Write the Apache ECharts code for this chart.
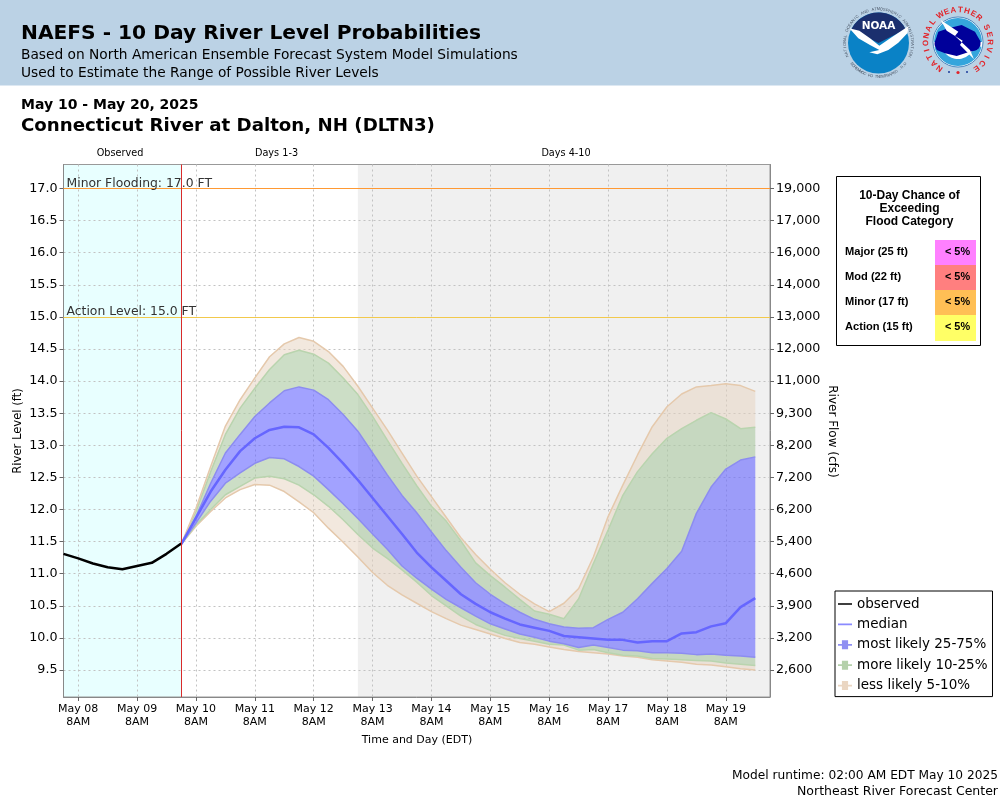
<!DOCTYPE html>
<html>
<head>
<meta charset="utf-8">
<title>NAEFS - Connecticut River at Dalton, NH</title>
<script src="https://cdn.jsdelivr.net/npm/echarts@6/dist/echarts.min.js"></script>
<style>
  html, body { margin: 0; padding: 0; background: #fff; }
  #chart { width: 1000px; height: 800px; }
</style>
</head>
<body>
<div id="chart"></div>
<script>
// x axis, one category every 6 hours, May 08 2AM to May 20 2AM
const days = ['May 08', 'May 09', 'May 10', 'May 11', 'May 12', 'May 13', 'May 14', 'May 15', 'May 16', 'May 17', 'May 18', 'May 19'];
const hours = ['2AM', '8AM', '2PM', '8PM'];
const categories = days.flatMap(d => hours.map(h => d + '\n' + h)).concat(['May 20\n2AM']);
const nowIndex = 8;   // May 10 2AM
const days4Index = 20; // May 13 2AM

// tick labels, both y axes share positions
const levelTicks = [9.5, 10, 10.5, 11, 11.5, 12, 12.5, 13, 13.5, 14, 14.5, 15, 15.5, 16, 16.5, 17];
const flowTicks = ['2,600', '3,200', '3,900', '4,600', '5,400', '6,200', '7,200', '8,200', '9,300', '11,000', '12,000', '13,000', '14,000', '16,000', '17,000', '19,000'];

// observed stage, every 6 hours up to now
const observed = [11.31, 11.24, 11.16, 11.10, 11.07, 11.12, 11.17, 11.31, 11.47];

// forecast percentiles, every 6 hours from now
const p95 = [11.46, 12.02, 12.67, 13.30, 13.71, 14.05, 14.38, 14.58, 14.68, 14.62, 14.46, 14.23, 13.92, 13.58, 13.24, 12.88, 12.52, 12.20, 11.88, 11.56, 11.30, 11.07, 10.86, 10.68, 10.53, 10.41, 10.54, 10.77, 11.26, 11.89, 12.38, 12.85, 13.29, 13.60, 13.80, 13.91, 13.93, 13.96, 13.93, 13.84];
const p90 = [11.46, 11.97, 12.59, 13.17, 13.58, 13.89, 14.18, 14.41, 14.48, 14.42, 14.28, 14.05, 13.79, 13.45, 13.08, 12.72, 12.37, 12.05, 11.82, 11.51, 11.17, 10.97, 10.79, 10.60, 10.42, 10.37, 10.30, 10.61, 11.16, 11.68, 12.22, 12.59, 12.87, 13.11, 13.26, 13.39, 13.51, 13.41, 13.26, 13.28];
const p75 = [11.46, 11.89, 12.41, 12.88, 13.17, 13.45, 13.66, 13.85, 13.91, 13.86, 13.71, 13.48, 13.22, 12.88, 12.54, 12.22, 11.95, 11.65, 11.36, 11.10, 10.86, 10.68, 10.53, 10.40, 10.29, 10.22, 10.17, 10.15, 10.16, 10.29, 10.40, 10.61, 10.85, 11.08, 11.35, 11.94, 12.35, 12.63, 12.77, 12.82];
const p50 = [11.46, 11.87, 12.28, 12.62, 12.91, 13.11, 13.24, 13.29, 13.28, 13.17, 12.96, 12.72, 12.46, 12.18, 11.90, 11.62, 11.33, 11.10, 10.89, 10.68, 10.53, 10.40, 10.30, 10.21, 10.16, 10.11, 10.03, 10.01, 9.99, 9.97, 9.97, 9.93, 9.95, 9.95, 10.07, 10.09, 10.18, 10.23, 10.48, 10.62];
const p25 = [11.46, 11.79, 12.13, 12.41, 12.57, 12.72, 12.81, 12.79, 12.67, 12.52, 12.31, 12.09, 11.86, 11.62, 11.38, 11.12, 10.93, 10.76, 10.60, 10.47, 10.34, 10.22, 10.14, 10.06, 10.01, 9.95, 9.91, 9.85, 9.89, 9.85, 9.81, 9.80, 9.77, 9.77, 9.76, 9.74, 9.75, 9.73, 9.72, 9.70];
const p10 = [11.46, 11.76, 12.00, 12.23, 12.36, 12.49, 12.52, 12.48, 12.38, 12.23, 12.05, 11.84, 11.61, 11.40, 11.24, 11.06, 10.87, 10.66, 10.50, 10.34, 10.21, 10.12, 10.04, 9.99, 9.95, 9.90, 9.89, 9.81, 9.82, 9.77, 9.73, 9.72, 9.68, 9.67, 9.66, 9.65, 9.64, 9.61, 9.59, 9.57];
const p5 = [11.46, 11.74, 11.97, 12.18, 12.31, 12.39, 12.38, 12.28, 12.12, 11.95, 11.71, 11.49, 11.26, 11.02, 10.82, 10.67, 10.54, 10.41, 10.30, 10.20, 10.13, 10.06, 9.99, 9.93, 9.90, 9.86, 9.82, 9.79, 9.77, 9.75, 9.72, 9.70, 9.66, 9.64, 9.62, 9.59, 9.58, 9.55, 9.52, 9.50];

// flood stages and the chance table
const minorStage = 17;
const actionStage = 15;
const floodNames = ['Major (25 ft)', 'Mod (22 ft)', 'Minor (17 ft)', 'Action (15 ft)'];
const floodChance = ['< 5%', '< 5%', '< 5%', '< 5%'];

const FONT = '"DejaVu Sans"';
const TAN = 'rgba(230,210,190,0.5)';
const GREEN = 'rgba(170,200,160,0.6)';
const BLUE = 'rgba(100,100,255,0.6)';
const TAN_LINE = '#e5c9ac';
const GREEN_LINE = '#b9d4ae';
const BLUE_LINE = '#8c8cf0';
const GRID_LINE = { color: '#c2c2c2', type: [2, 3], width: 1 };

const pad = arr => new Array(nowIndex).fill(null).concat(arr);
const diff = (top, bottom) => pad(top.map((v, i) => +(v - bottom[i]).toFixed(2)));
const everyDay = i => i % 4 === 1;

// one band of the stack, the top edge of it has its own colour
function band(name, data, fill, edge) {
  return {
    name: name,
    type: 'line',
    stack: 'naefs',
    data: data,
    symbol: 'none',
    color: edge,
    z: 2,
    lineStyle: { color: edge, width: 1.5 },
    areaStyle: fill ? { color: fill, opacity: 1 } : undefined
  };
}

// empty series that only carries one reference line
function refLine(name, color, width, point, text) {
  const labelStyle = text
    ? { show: true, position: 'insideStartTop', formatter: text, color: '#333', fontFamily: FONT, fontSize: 12.4, distance: [3, -1] }
    : { show: false };
  return {
    name: name, type: 'line', data: [], z: 5,
    markLine: {
      silent: true, symbol: 'none', z: 5, animation: false,
      lineStyle: { color: color, width: width, type: 'solid', opacity: 1 },
      label: labelStyle,
      data: [point]
    }
  };
}

function label(x, y, text, font, color) {
  return {
    type: 'text', x: x, y: y, silent: true,
    style: { text: text, font: font, fill: color || '#000', align: 'left', verticalAlign: 'middle' }
  };
}

function centered(x, y, text, font, rotation, color) {
  return {
    type: 'text', silent: true, x: x, y: y, rotation: rotation || 0,
    style: { text: text, font: font, fill: color || '#000', align: 'center', verticalAlign: 'middle' }
  };
}

// letters placed one by one around a circle, angles in degrees clockwise from top
function arcText(text, cx, cy, r, from, to, font, color, bottom) {
  const n = text.length;
  return text.split('').map((ch, i) => {
    const deg = from + (to - from) * i / (n - 1);
    const a = deg * Math.PI / 180;
    return {
      type: 'text', silent: true,
      x: cx + r * Math.sin(a), y: cy - r * Math.cos(a),
      rotation: bottom ? -a + Math.PI : -a,
      style: { text: ch, font: font, fill: color, align: 'center', verticalAlign: 'middle' }
    };
  });
}

function noaaLogo() {
  const cx = 878.5, cy = 43;
  const d2r = Math.PI / 180;
  const wing = [[88, 85], [118, 92], [150, 115], [178, 137], [215, 112], [266, 78], [262, 100], [235, 128], [205, 150], [172, 163], [148, 157], [178, 150], [150, 135], [115, 115]]
    .map(p => [820 + p[0] / 3, p[1] / 3]);
  return [
    { type: 'circle', silent: true, shape: { cx: cx, cy: cy, r: 30.5 }, style: { fill: '#0a82c6' } },
    { type: 'sector', silent: true, shape: { cx: cx, cy: cy, r: 30.5, r0: 0, startAngle: -153 * d2r, endAngle: -27 * d2r, clockwise: true }, style: { fill: '#1b2f6e' } },
    { type: 'polygon', silent: true, shape: { points: wing }, style: { fill: '#fff' } },
    centered(cx, 26, 'NOAA', 'bold 10.5px ' + FONT, 0, '#fff')
  ].concat(
    arcText('NATIONAL OCEANIC AND ATMOSPHERIC ADMINISTRATION', cx, cy, 33.8, -112, 112, '4px "Liberation Sans"', '#4a5666'),
    arcText('U.S. DEPARTMENT OF COMMERCE', cx, cy, 33.8, 128, 232, '4px "Liberation Sans"', '#4a5666', true)
  );
}

function nwsLogo() {
  const cx = 958, cy = 42;
  const at = pts => pts.map(p => [820 + p[0] / 3, p[1] / 3]);
  const navy = { fill: '#00009a' };
  const sky = { fill: '#35a5dc' };
  return [
    { type: 'circle', silent: true, shape: { cx: cx, cy: cy, r: 25 }, style: { fill: '#fff', stroke: '#2a6fb0', lineWidth: 0.8 } },
    { type: 'sector', silent: true, shape: { cx: cx, cy: cy, r: 24, r0: 0, startAngle: -Math.PI, endAngle: 0, clockwise: true }, style: sky },
    { type: 'sector', silent: true, shape: { cx: cx, cy: cy, r: 24, r0: 17, startAngle: 0.2, endAngle: Math.PI - 0.2, clockwise: true }, style: sky },
    { type: 'polygon', silent: true, shape: { points: at([[345, 125], [355, 95], [385, 85], [425, 75], [465, 95], [482, 125], [470, 150], [440, 158], [410, 168], [375, 160], [350, 150]]) }, style: navy },
    { type: 'circle', silent: true, shape: { cx: 941, cy: 44, r: 6.5 }, style: navy },
    { type: 'circle', silent: true, shape: { cx: 974, cy: 44, r: 6.5 }, style: navy },
    { type: 'polygon', silent: true, shape: { points: at([[362, 60], [415, 95], [405, 108], [450, 150], [462, 178], [420, 135], [428, 122], [380, 92]]) }, style: { fill: '#fff' } },
    { type: 'circle', silent: true, shape: { cx: 949, cy: 72, r: 1 }, style: { fill: '#1a3a9a' } },
    { type: 'circle', silent: true, shape: { cx: 967, cy: 72, r: 1 }, style: { fill: '#1a3a9a' } },
    { type: 'circle', silent: true, shape: { cx: 958, cy: 72.5, r: 1.6 }, style: { fill: '#e2242a' } }
  ].concat(
    arcText('NATIONAL', cx, cy, 32, -145, -52, 'bold 8px "Liberation Sans"', '#e2242a'),
    arcText('WEATHER', cx, cy, 32, -33, 41, 'bold 8px "Liberation Sans"', '#e2242a'),
    arcText('SERVICE', cx, cy, 32, 63, 145, 'bold 8px "Liberation Sans"', '#e2242a')
  );
}

function floodTable() {
  const fills = ['#ff80ff', '#ff7f7f', '#ffbf55', '#ffff66'];
  const items = [
    { type: 'rect', silent: true, shape: { x: 836.5, y: 176.5, width: 144, height: 169 }, style: { fill: '#fff', stroke: '#000', lineWidth: 1 } }
  ];
  ['10-Day Chance of', 'Exceeding', 'Flood Category'].forEach((t, i) => {
    items.push(centered(909.5, 196 + i * 13, t, 'bold 12px "Liberation Sans"'));
  });
  floodNames.forEach((t, i) => {
    const y = 240 + i * 25;
    items.push({ type: 'rect', silent: true, shape: { x: 935, y: y, width: 41, height: i === 3 ? 26 : 25 }, style: { fill: fills[i] } });
    items.push(label(845, y + 12, t, 'bold 11.1px "Liberation Sans"'));
    items.push(centered(957.5, y + 12, floodChance[i], 'bold 10.9px "Liberation Sans"'));
  });
  return items;
}

const graphics = [
  { type: 'rect', silent: true, shape: { x: 0, y: 0, width: 1000, height: 85.5 }, style: { fill: '#bbd2e5' } },
  label(21, 34, 'NAEFS - 10 Day River Level Probabilities', 'bold 20.2px ' + FONT),
  label(21, 55, 'Based on North American Ensemble Forecast System Model Simulations', '13.75px ' + FONT),
  label(21, 73.5, 'Used to Estimate the Range of Possible River Levels', '13.75px ' + FONT),
  label(21, 105, 'May 10 - May 20, 2025', 'bold 14px ' + FONT),
  label(21, 126, 'Connecticut River at Dalton, NH (DLTN3)', 'bold 18.2px ' + FONT),
  centered(120, 153.5, 'Observed', '9.7px ' + FONT),
  centered(276.5, 153.5, 'Days 1-3', '9.7px ' + FONT),
  centered(566, 153.5, 'Days 4-10', '9.7px ' + FONT),
  centered(18, 431, 'River Level (ft)', '11.6px ' + FONT, Math.PI / 2),
  centered(832, 431.5, 'River Flow (cfs)', '12px ' + FONT, -Math.PI / 2),
  centered(417, 740, 'Time and Day (EDT)', '11px ' + FONT),
  { type: 'text', silent: true, x: 998, y: 775.5, style: { text: 'Model runtime: 02:00 AM EDT May 10 2025', font: '12.2px ' + FONT, fill: '#000', align: 'right', verticalAlign: 'middle' } },
  { type: 'text', silent: true, x: 998, y: 791.5, style: { text: 'Northeast River Forecast Center', font: '12.5px ' + FONT, fill: '#000', align: 'right', verticalAlign: 'middle' } }
].concat(noaaLogo(), nwsLogo(), floodTable());

const LINE_ICON = 'path://M0 0h0.01v0.01h-0.01zM0 44H100V56H0ZM0 99.9h0.01v0.1h-0.01z';
const BOX_ICON = 'path://M0 0h0.01v0.01h-0.01zM0 44H28V18H72V44H100V56H72V82H28V56H0ZM0 99.9h0.01v0.1h-0.01z';

const chart = echarts.init(document.getElementById('chart'), null, { renderer: 'canvas' });
chart.setOption({
  animation: false,
  textStyle: { fontFamily: FONT },
  graphic: { elements: graphics },
  grid: {
    show: true, left: 63.5, right: 230, top: 164.5, bottom: 103,
    borderColor: '#999', borderWidth: 1, backgroundColor: 'transparent', containLabel: false
  },
  legend: {
    left: 835, top: 591, orient: 'vertical',
    itemWidth: 18, itemHeight: 14, itemGap: 6.4, padding: [6, 5, 4, 3],
    borderColor: '#000', borderWidth: 1, backgroundColor: '#fff',
    selectedMode: false,
    textStyle: { fontFamily: FONT, fontSize: 13.5, color: '#000', padding: [0, 0, 0, -2] },
    data: [
      { name: 'observed', icon: LINE_ICON, itemStyle: { color: '#000' } },
      { name: 'median', icon: LINE_ICON, itemStyle: { color: '#8a8aff' } },
      { name: 'most likely 25-75%', icon: BOX_ICON, itemStyle: { color: '#8f8ff2' } },
      { name: 'more likely 10-25%', icon: BOX_ICON, itemStyle: { color: '#b4d0aa' } },
      { name: 'less likely 5-10%', icon: BOX_ICON, itemStyle: { color: '#ead6c2' } }
    ]
  },
  xAxis: {
    type: 'category', data: categories, boundaryGap: false,
    axisLine: { lineStyle: { color: '#888', width: 1 } },
    axisTick: { length: 4, interval: everyDay, lineStyle: { color: '#666' } },
    axisLabel: { interval: everyDay, color: '#000', fontFamily: FONT, fontSize: 11, lineHeight: 12.5, margin: 6 },
    splitLine: { show: true, interval: everyDay, lineStyle: GRID_LINE }
  },
  yAxis: [
    {
      type: 'value', min: 9.08, max: 17.374,
      axisLine: { show: true, lineStyle: { color: '#888', width: 1 } },
      axisTick: { show: true, length: 4, customValues: levelTicks, lineStyle: { color: '#666' } },
      axisLabel: { customValues: levelTicks, formatter: v => v.toFixed(1), color: '#000', fontFamily: FONT, fontSize: 12.7, margin: 6, padding: [4, 0, 0, 0] },
      splitLine: { show: true, lineStyle: GRID_LINE }
    },
    {
      type: 'value', min: 9.08, max: 17.374, position: 'right',
      axisLine: { show: true, lineStyle: { color: '#888', width: 1 } },
      axisTick: { show: true, length: 4, customValues: levelTicks, lineStyle: { color: '#666' } },
      axisLabel: { customValues: levelTicks, formatter: v => flowTicks[levelTicks.indexOf(v)], color: '#000', fontFamily: FONT, fontSize: 12.7, margin: 6, padding: [4, 0, 0, 0] },
      splitLine: { show: false }
    }
  ],
  series: [
    band('band base', pad(p5), null, TAN_LINE),
    band('less likely 5-10%', diff(p10, p5), TAN, GREEN_LINE),
    band('more likely 10-25%', diff(p25, p10), GREEN, BLUE_LINE),
    band('most likely 25-75%', diff(p75, p25), BLUE, BLUE_LINE),
    band('more likely 10-25%', diff(p90, p75), GREEN, GREEN_LINE),
    band('less likely 5-10%', diff(p95, p90), TAN, TAN_LINE),
    {
      name: 'median', type: 'line', data: pad(p50), symbol: 'none', z: 3,
      color: '#6666ff', lineStyle: { color: '#6666ff', width: 2.5 }
    },
    {
      name: 'observed', type: 'line', data: observed, symbol: 'none', z: 4,
      color: '#000', lineStyle: { color: '#000', width: 2.5 },
      markArea: {
        silent: true, z: -1,
        data: [
          [{ xAxis: categories[0], itemStyle: { color: '#e8ffff' } }, { xAxis: categories[nowIndex] }],
          [{ xAxis: categories[days4Index], itemStyle: { color: '#f0f0f0' } }, { xAxis: categories[categories.length - 1] }]
        ]
      }
    },
    refLine('minor stage', '#ff9933', 1.2, { yAxis: minorStage }, 'Minor Flooding: 17.0 FT'),
    refLine('action stage', '#f2c94c', 1, { yAxis: actionStage }, 'Action Level: 15.0 FT'),
    refLine('now', '#d92b2b', 1, { xAxis: categories[nowIndex] })
  ]
});
</script>
</body>
</html>
